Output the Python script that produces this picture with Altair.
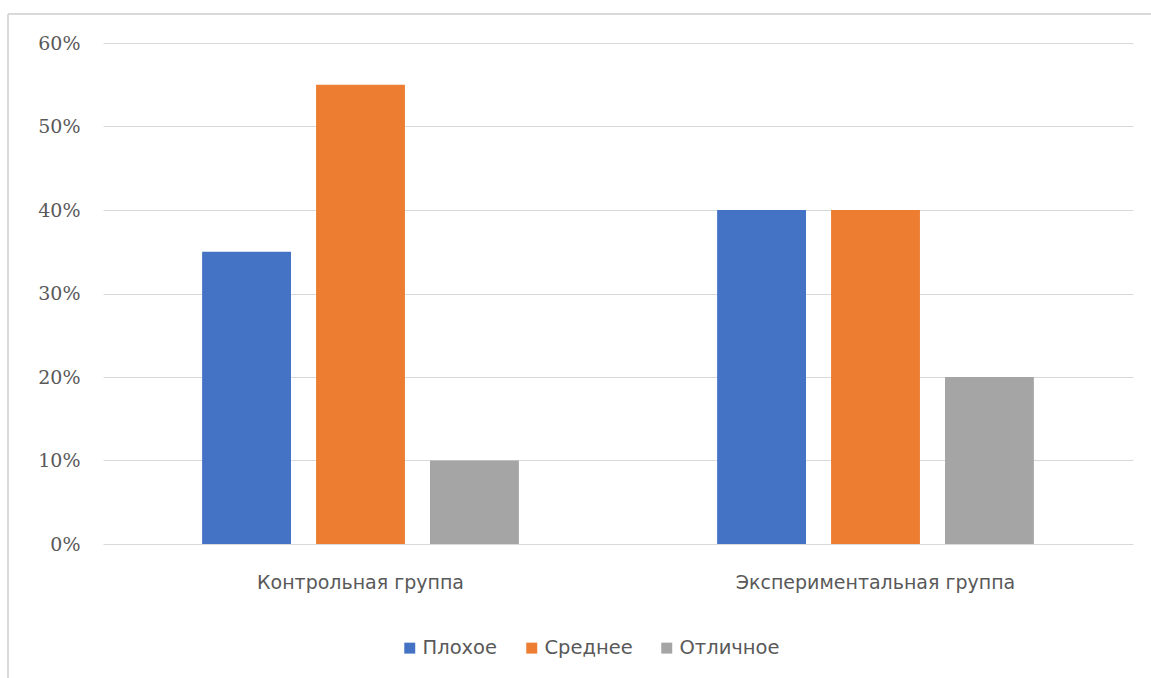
import altair as alt
import pandas as pd

groups = ["Контрольная группа", "Экспериментальная группа"]
series = ["Плохое", "Среднее", "Отличное"]
control = [0.35, 0.55, 0.10]
experimental = [0.40, 0.40, 0.20]
colors = ["#4472C4", "#ED7D31", "#A5A5A5"]
y_ticks = [0, 0.1, 0.2, 0.3, 0.4, 0.5, 0.6]

rows = []
for g, vals in zip(groups, [control, experimental]):
    for s, v in zip(series, vals):
        rows.append({"group": g, "series": s, "value": v})
df = pd.DataFrame(rows)

bars = alt.Chart(df).mark_bar().encode(
    x=alt.X("group:N", sort=groups, title=None,
            scale=alt.Scale(paddingInner=0, paddingOuter=0),
            axis=alt.Axis(labelAngle=0, ticks=False, domain=False, grid=False,
                          labelPadding=29, labelLimit=0, labelFont="DejaVu Sans",
                          labelFontSize=19, labelColor="#595959")),
    xOffset=alt.XOffset("series:N", sort=series,
                        scale=alt.Scale(paddingInner=0.22, paddingOuter=0.87)),
    y=alt.Y("value:Q", title=None,
            scale=alt.Scale(domain=[0, 0.6], nice=False),
            axis=alt.Axis(values=y_ticks, format=".0%", ticks=False, domain=False,
                          labelPadding=23, labelFont="DejaVu Serif", labelFontSize=19,
                          labelColor="#595959", gridColor="#D9D9D9")),
    color=alt.Color("series:N", sort=series,
                    scale=alt.Scale(domain=series, range=colors),
                    legend=alt.Legend(title=None, orient="none", direction="horizontal",
                                      legendX=297, legendY=595, symbolType="square",
                                      symbolSize=120, symbolStrokeWidth=0,
                                      labelFont="DejaVu Sans", labelFontSize=19.5,
                                      labelColor="#595959", columnPadding=24,
                                      labelOffset=3, symbolOpacity=1)),
)

one = alt.Data(values=[{"a": 1}])
top_rule = alt.Chart(one).mark_rule(color="#D9D9D9", strokeWidth=2).encode(
    x=alt.value(-95), x2=alt.value(1048), y=alt.value(-29))
left_rule = alt.Chart(one).mark_rule(color="#D9D9D9", strokeWidth=2).encode(
    x=alt.value(-95), y=alt.value(-29), y2=alt.value(640))

chart = alt.layer(bars, top_rule, left_rule).properties(
    width=1030, height=501,
    padding={"left": 103, "top": 43, "right": 18, "bottom": 134},
    autosize=alt.AutoSizeParams(type="none"),
).configure(background="white").configure_view(stroke="transparent", strokeWidth=0)

chart.save("out.html", embed_options={"renderer": "svg", "actions": False})
